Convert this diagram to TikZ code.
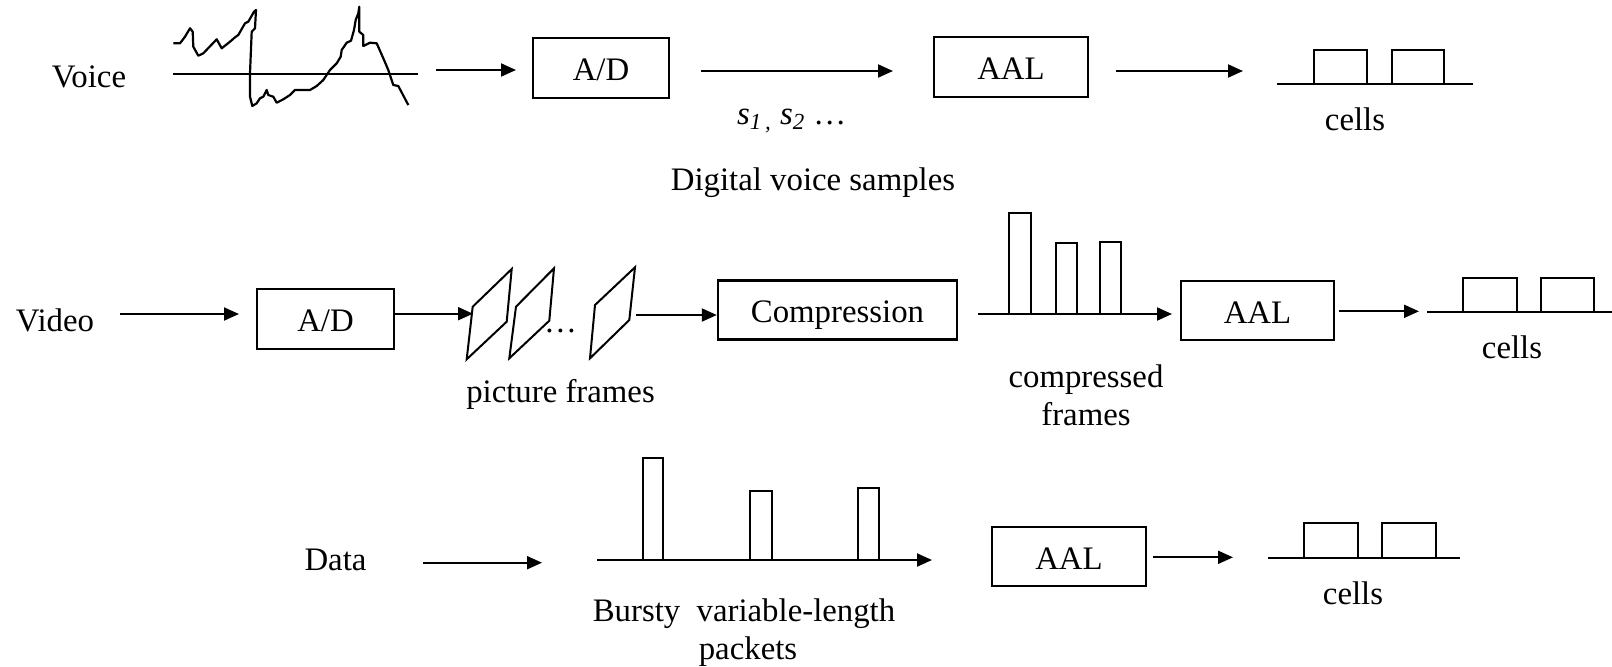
\documentclass[tikz,border=0pt]{standalone}
\usepackage{fontspec}
\setmainfont{Liberation Serif}
\usetikzlibrary{arrows.meta}
\begin{document}
\begin{tikzpicture}[x=0.5pt,y=-0.5pt,
  line width=1pt,
  lbl/.style={font=\fontsize{16.4}{19}\selectfont, inner sep=0pt, anchor=base},
  blk/.style={draw, line width=1.2pt, font=\fontsize{16.4}{19}\selectfont,
              inner sep=0pt, text height=12.8pt, text depth=0pt},
  arr/.style={-{Triangle[length=7.5pt,width=6.5pt]}},
  frm/.style={line width=1pt, line join=miter},
  bar/.style={line width=1pt},
  wave/.style={line width=1.1pt, line join=round},
]
\useasboundingbox (0,0) rectangle (1612,666);

% ---------------- Voice ----------------
\node[lbl] (voice) at (89,87) {Voice};
\draw (173,74) -- (418,74);
\draw[wave] (173.3,43.3) -- (180,43.3) -- (185,36.7) -- (190,28.3) -- (192.7,31.7)
  -- (193.3,46.7) -- (198.3,55.7) -- (203.3,53.3) -- (216.7,39.3) -- (221.7,48.3)
  -- (230,41.7) -- (235,37.3) -- (238.3,35) -- (245,23.3) -- (248.3,21.7)
  -- (254,11.7) -- (256,10) -- (255,28.3) -- (251.7,31.7) -- (250,73.3)
  -- (250,96.7) -- (252.3,106) -- (256.7,103.3) -- (260,98.3) -- (263.3,96.7)
  -- (266.7,90) -- (268.3,95) -- (273.3,96.7) -- (276.7,102.7) -- (283.3,99.3)
  -- (290,95) -- (295,90) -- (310,90) -- (316.7,86) -- (323.3,80) -- (330,70)
  -- (336.7,63.3) -- (340.7,56.7) -- (341.7,50) -- (346.7,42.7) -- (351,40.7)
  -- (354,30) -- (355.7,20) -- (358.3,13.3) -- (359.3,6.7) -- (359.3,31.7)
  -- (363.3,35) -- (363.3,46) -- (370,42.7) -- (376.7,43.3) -- (383.3,58.3)
  -- (388.3,70) -- (393.3,85) -- (398.3,86) -- (408.3,105);

\node[blk, minimum width=68pt, minimum height=30pt] (ad1) at (601,68) {A/D};
\node[blk, minimum width=77pt, minimum height=30pt] (aal1) at (1011,67) {AAL};

\coordinate (v1a) at (436,70);  \coordinate (v1b) at (516,70);
\coordinate (v2a) at (701,71);  \coordinate (v2b) at (893,71);
\coordinate (v3a) at (1116,71); \coordinate (v3b) at (1243,71);
\draw[arr] (v1a) -- (v1b);
\draw[arr] (v2a) -- (v2b);
\draw[arr] (v3a) -- (v3b);

\node[lbl, anchor=base west] (slab) at (736,124)
  {\itshape s\textsubscript{1\,,} s\textsubscript{2} \upshape…};
\node[lbl] (samp) at (813,190) {Digital voice samples};

\draw (1277,84) -- (1473,84);
\draw (1314,84) rectangle (1367,50);
\draw (1392,84) rectangle (1444,50);
\node[lbl] (cells1) at (1355,130) {cells};

% ---------------- Video ----------------
\node[lbl] (video) at (55,331) {Video};
\coordinate (w1a) at (120,314); \coordinate (w1b) at (239,314);
\draw[arr] (w1a) -- (w1b);
\node[blk, minimum width=68.5pt, minimum height=30pt] (ad2) at (325.5,319) {A/D};

% picture frames
\coordinate (f1) at (473,313.7);
\draw[frm] (472.7,306.7) -- (511.7,269) -- (506.7,321.7) -- (466.7,359.3) -- cycle;
\draw[frm] (516,306.7) -- (554,268.3) -- (549.3,320.7) -- (509.3,358.3) -- cycle;
\draw[frm] (595,305) -- (635,267.3) -- (629.3,320) -- (590,358.3) -- cycle;
\node[lbl, anchor=base west] (dots) at (543,332) {…};
\draw[arr] (ad2.east |- f1) -- (f1);
\node[lbl] (pf) at (560.5,402) {picture frames};

\node[blk, minimum width=119.5pt, minimum height=29.5pt] (comp) at (837.5,310) {Compression};
\coordinate (f3) at (636,315);
\draw[arr] (f3) -- (f3 -| comp.west);

% compressed frames on a time axis
\coordinate (cfa) at (978,314); \coordinate (cfb) at (1172,314);
\draw[bar] (1009.3,314) rectangle (1030.7,212.7);
\draw[bar] (1055.7,314) rectangle (1076.7,242.7);
\draw[bar] (1099.7,314) rectangle (1121,242.3);
\draw[arr] (cfa) -- (cfb);
\node[lbl, align=center] (cf) at (1086,425) {compressed\\frames};

\node[blk, minimum width=76.5pt, minimum height=29.5pt] (aal2) at (1257.5,310.5) {AAL};
\coordinate (w4a) at (1339,311.3); \coordinate (w4b) at (1419,311.3);
\draw[arr] (w4a) -- (w4b);

\draw (1427,312.3) -- (1612,312.3);
\draw (1463.3,312.3) rectangle (1516.7,278.3);
\draw (1541,312.3) rectangle (1594,278.3);
\node[lbl] (cells2) at (1512,358) {cells};

% ---------------- Data ----------------
\node[lbl] (data) at (335.5,570) {Data};
\coordinate (d1a) at (423,562.7); \coordinate (d1b) at (542,562.7);
\draw[arr] (d1a) -- (d1b);

\coordinate (dpa) at (597,560); \coordinate (dpb) at (932,560);
\draw[bar] (642.7,560) rectangle (663.3,458.3);
\draw[bar] (750,560) rectangle (771.7,490.7);
\draw[bar] (858.3,560) rectangle (879.3,487.7);
\draw[arr] (dpa) -- (dpb);
\node[lbl, align=center] (burst) at (744,659)
  {Bursty\ \ variable-length\\\hspace*{4pt}packets};

\node[blk, minimum width=77pt, minimum height=29.5pt] (aal3) at (1069,556.3) {AAL};
\coordinate (d3a) at (1153,557.3); \coordinate (d3b) at (1233,557.3);
\draw[arr] (d3a) -- (d3b);

\draw (1268,558) -- (1460,558);
\draw (1304.3,558) rectangle (1357.7,523.3);
\draw (1381.7,558) rectangle (1435.7,523.3);
\node[lbl] (cells3) at (1353,604) {cells};
\end{tikzpicture}
\end{document}
